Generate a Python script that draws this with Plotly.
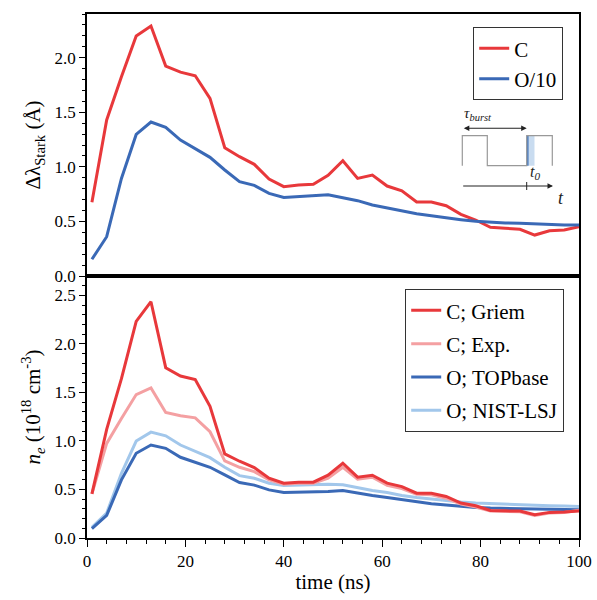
import plotly.graph_objects as go
from plotly.subplots import make_subplots

# ---------------- data ----------------
time_ns = [1, 4, 7, 10, 13, 16, 19, 22, 25, 28, 31, 34, 37, 40, 43, 46, 49,
           52, 55, 58, 61, 64, 67, 70, 73, 76, 79, 82, 85, 88, 91, 94, 97, 100]

stark_C = [0.675, 1.43, 1.825, 2.198, 2.29, 1.923, 1.868, 1.834, 1.627, 1.175,
           1.093, 1.023, 0.888, 0.818, 0.833, 0.84, 0.922, 1.056, 0.894, 0.925,
           0.824, 0.781, 0.678, 0.678, 0.644, 0.565, 0.513, 0.446, 0.437, 0.428,
           0.375, 0.415, 0.421, 0.452]

stark_O10 = [0.153, 0.36, 0.894, 1.297, 1.41, 1.361, 1.245, 1.169, 1.087, 0.971,
             0.864, 0.83, 0.757, 0.72, 0.727, 0.733, 0.745, 0.717, 0.69, 0.65,
             0.625, 0.595, 0.571, 0.552, 0.531, 0.516, 0.501, 0.492, 0.485, 0.483,
             0.476, 0.47, 0.467, 0.467]

ne_C_griem = [0.455, 1.119, 1.642, 2.233, 2.435, 1.755, 1.669, 1.632, 1.358, 0.866,
              0.791, 0.725, 0.616, 0.565, 0.575, 0.575, 0.647, 0.77, 0.627, 0.647,
              0.565, 0.53, 0.462, 0.462, 0.428, 0.36, 0.332, 0.284, 0.28, 0.277,
              0.24, 0.264, 0.267, 0.278]

ne_C_exp = [0.455, 0.975, 1.232, 1.478, 1.546, 1.293, 1.259, 1.238, 1.095, 0.794,
            0.729, 0.684, 0.599, 0.555, 0.565, 0.565, 0.616, 0.729, 0.606, 0.627,
            0.542, 0.51, 0.45, 0.445, 0.41, 0.35, 0.32, 0.277, 0.274, 0.27,
            0.233, 0.257, 0.264, 0.285]

ne_O_topbase = [0.096, 0.233, 0.599, 0.873, 0.958, 0.924, 0.832, 0.784, 0.729, 0.65,
                0.571, 0.545, 0.496, 0.469, 0.472, 0.479, 0.479, 0.489, 0.462, 0.438,
                0.417, 0.394, 0.37, 0.353, 0.339, 0.325, 0.315, 0.308, 0.305, 0.3,
                0.298, 0.294, 0.294, 0.291]

ne_O_nist = [0.11, 0.257, 0.667, 0.999, 1.091, 1.053, 0.958, 0.896, 0.828, 0.729,
             0.643, 0.616, 0.565, 0.541, 0.548, 0.548, 0.555, 0.548, 0.52, 0.489,
             0.469, 0.438, 0.417, 0.401, 0.383, 0.37, 0.36, 0.353, 0.346, 0.342,
             0.339, 0.332, 0.329, 0.325]

top_labels = ["C", "O/10"]
bottom_labels = ["C; Griem", "C; Exp.", "O; TOPbase", "O; NIST-LSJ"]

RED = "#e8383b"
BLUE = "#3a69b6"
PINK = "#f4a0a2"
LBLUE = "#a2c7eb"

FONT = "Liberation Serif"
FS = 17      # tick labels
FL = 21      # axis titles / legend

fig = make_subplots(rows=2, cols=1, shared_xaxes=True, vertical_spacing=0)

fig.add_trace(go.Scatter(x=time_ns, y=stark_C, mode="lines", name=top_labels[0],
                         line=dict(color=RED, width=3), legend="legend",
                         legendgroup="a", legendrank=1), row=1, col=1)
fig.add_trace(go.Scatter(x=time_ns, y=stark_O10, mode="lines", name=top_labels[1],
                         line=dict(color=BLUE, width=3), legend="legend",
                         legendgroup="b", legendrank=2), row=1, col=1)

fig.add_trace(go.Scatter(x=time_ns, y=ne_O_nist, mode="lines", name=bottom_labels[3],
                         line=dict(color=LBLUE, width=3), legend="legend2",
                         legendgroup="g4", legendrank=4), row=2, col=1)
fig.add_trace(go.Scatter(x=time_ns, y=ne_O_topbase, mode="lines", name=bottom_labels[2],
                         line=dict(color=BLUE, width=3), legend="legend2",
                         legendgroup="g3", legendrank=3), row=2, col=1)
fig.add_trace(go.Scatter(x=time_ns, y=ne_C_exp, mode="lines", name=bottom_labels[1],
                         line=dict(color=PINK, width=3), legend="legend2",
                         legendgroup="g2", legendrank=2), row=2, col=1)
fig.add_trace(go.Scatter(x=time_ns, y=ne_C_griem, mode="lines", name=bottom_labels[0],
                         line=dict(color=RED, width=3), legend="legend2",
                         legendgroup="g1", legendrank=1), row=2, col=1)

axis_common = dict(showline=True, linecolor="black", linewidth=1.6, mirror=True,
                   showgrid=False, zeroline=False, automargin=False,
                   tickfont=dict(family=FONT, size=FS, color="black"))

fig.update_xaxes(range=[0, 100], ticks="", showticklabels=False, row=1, col=1,
                 **axis_common)
fig.update_xaxes(range=[0, 100], ticks="outside", ticklen=7, tickwidth=1.4,
                 tickcolor="black", dtick=20, tick0=0,
                 minor=dict(dtick=4, ticks="outside", ticklen=4, tickwidth=1.2,
                            tickcolor="black"),
                 title=dict(text="time (ns)", font=dict(family=FONT, size=FL,
                                                        color="black"),
                            standoff=4),
                 row=2, col=1, **axis_common)

fig.update_yaxes(range=[0, 2.4], dtick=0.5, tick0=0, tickformat=".1f",
                 ticks="outside", ticklen=6, tickwidth=1.4, tickcolor="black",
                 minor=dict(dtick=0.1, ticks="outside", ticklen=3.5, tickwidth=1.2,
                            tickcolor="black"),
                 title=dict(text="Δλ<sub>Stark</sub> (Å)",
                            font=dict(family=FONT, size=FL, color="black"),
                            standoff=8),
                 row=1, col=1, **axis_common)
fig.update_yaxes(range=[0, 2.7], dtick=0.5, tick0=0, tickformat=".1f",
                 ticks="outside", ticklen=6, tickwidth=1.4, tickcolor="black",
                 minor=dict(dtick=0.1, ticks="outside", ticklen=3.5, tickwidth=1.2,
                            tickcolor="black"),
                 title=dict(text="<i>n<sub>e</sub></i> (10<sup>18</sup> cm<sup>-3</sup>)",
                            font=dict(family=FONT, size=FL, color="black"),
                            standoff=8),
                 row=2, col=1, **axis_common)

legend_common = dict(bgcolor="white", bordercolor="#333333", borderwidth=1.2,
                     font=dict(family=FONT, size=FL, color="black"),
                     xanchor="right", yanchor="top", itemwidth=30,
                     traceorder="grouped")

L, R, T, B = 87, 18, 14, 62
W, H = 597, 600
PW, PH = W - L - R, H - T - B


def px(x):
    return (x - L) / PW


def py(y):
    return (H - B - y) / PH


fig.update_layout(
    width=W, height=H,
    margin=dict(l=L, r=R, t=T, b=B, autoexpand=False),
    paper_bgcolor="white", plot_bgcolor="white",
    font=dict(family=FONT, size=FS, color="black"),
    legend=dict(x=px(563), y=py(27), tracegroupgap=0, **legend_common),
    legend2=dict(x=px(564), y=py(289), tracegroupgap=3, **legend_common),
)

# ---- inset schematic (burst timing) ----
gray = "#999999"
wave = [(462.3, 165.7), (462.3, 135.7), (487.3, 135.7), (487.3, 165.7),
        (526.7, 165.7), (526.7, 135.7), (552.3, 135.7), (552.3, 165.7)]
path = "M " + " L ".join(f"{px(a):.5f},{py(b):.5f}" for a, b in wave)
fig.add_shape(type="rect", xref="paper", yref="paper",
              x0=px(526.7), x1=px(534.5), y0=py(165.7), y1=py(135.7),
              fillcolor="#c9dcf0", line=dict(width=0), layer="above")
fig.add_shape(type="line", xref="paper", yref="paper",
              x0=px(527.6), x1=px(527.6), y0=py(165.7), y1=py(135.7),
              line=dict(color="#4d7fc2", width=2), layer="above")
fig.add_shape(type="path", xref="paper", yref="paper", path=path,
              line=dict(color=gray, width=1.2), layer="above")
# double arrow tau_burst
fig.add_annotation(xref="paper", yref="paper", x=px(526.7), y=py(128.3),
                   ax=-(526.7 - 462.3), ay=0, text="", showarrow=True,
                   arrowhead=2, startarrowhead=2, arrowside="end+start",
                   arrowsize=1, arrowwidth=1.1, arrowcolor="#222222")
fig.add_annotation(xref="paper", yref="paper", x=px(494), y=py(125),
                   yanchor="bottom",
                   text="<i>τ<sub>burst</sub></i>", showarrow=False,
                   font=dict(family=FONT, size=15, color="#222222"))
# time axis
fig.add_annotation(xref="paper", yref="paper", x=px(553), y=py(186),
                   ax=-(553 - 461.7), ay=0, text="", showarrow=True,
                   arrowhead=2, arrowsize=1, arrowwidth=1.1, arrowcolor="#222222")
fig.add_shape(type="line", xref="paper", yref="paper",
              x0=px(526.7), x1=px(526.7), y0=py(182), y1=py(190),
              line=dict(color="#222222", width=1))
fig.add_annotation(xref="paper", yref="paper", x=px(527.5), y=py(184),
                   xanchor="left", yanchor="bottom",
                   text="<i>t<sub>0</sub></i>", showarrow=False,
                   font=dict(family=FONT, size=16, color="#222222"))
fig.add_annotation(xref="paper", yref="paper", x=px(556), y=py(186),
                   xanchor="left",
                   text="<i>t</i>", showarrow=False,
                   font=dict(family=FONT, size=18, color="#222222"))

fig.write_html("out.html")
